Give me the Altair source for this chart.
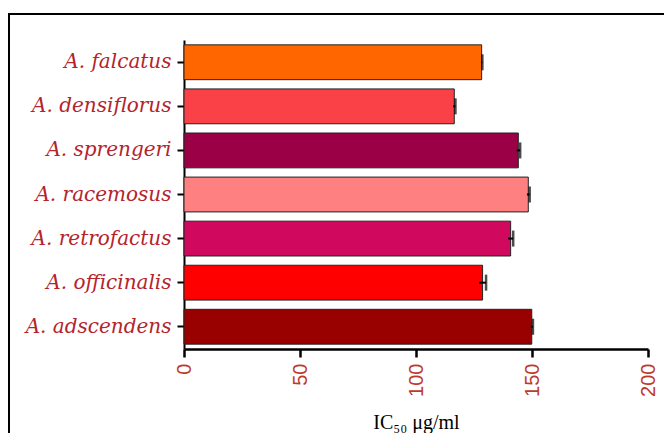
import altair as alt
import pandas as pd

species = ["A. falcatus", "A. densiflorus", "A. sprengeri", "A. racemosus",
           "A. retrofactus", "A. officinalis", "A. adscendens"]
ic50 = [128.3, 116.5, 144.1, 148.4, 140.8, 128.7, 149.9]
err = [0.3, 0.5, 0.8, 0.6, 1.1, 1.5, 0.5]
colors = ["#FF6600", "#FA4148", "#9B0047", "#FF8080", "#D0095F", "#FF0000", "#990000"]

df = pd.DataFrame({"species": species, "ic50": ic50, "err": err, "color": colors})
df["hi"] = df["ic50"] + df["err"]
df["lo"] = df["ic50"] - df["err"]

W, H = 464, 309

y_enc = alt.Y("species:N", sort=species,
              scale=alt.Scale(paddingInner=0.21, paddingOuter=0.11),
              axis=alt.Axis(title=None, labelFont="DejaVu Serif", labelFontStyle="italic",
                            labelFontSize=20, labelColor="#B5232B", labelPadding=6,
                            tickSize=7, tickWidth=2, tickColor="black",
                            domainWidth=2, domainColor="black"))

bars = alt.Chart(df).mark_bar(stroke="#222222", strokeWidth=1).encode(
    x=alt.X("ic50:Q", scale=alt.Scale(domain=[0, 200], nice=False),
            axis=alt.Axis(values=[0, 50, 100, 150, 200], title="IC₅₀ μg/ml",
                          titleFont="Liberation Serif", titleFontSize=20, titleFontWeight="normal",
                          titleColor="black", titlePadding=16,
                          labelFont="Liberation Sans", labelFontSize=20, labelColor="#C0392B",
                          labelAngle=270, labelPadding=6, labelFlush=False,
                          tickSize=8, tickWidth=2.5, tickColor="black",
                          domainWidth=2.5, domainColor="black", grid=False)),
    y=y_enc,
    color=alt.Color("color:N", scale=None),
)

rules = alt.Chart(df).mark_rule(color="black", strokeWidth=2).encode(
    x="lo:Q", x2="hi:Q", y=alt.Y("species:N", sort=species))

caps = alt.Chart(df).mark_tick(color="black", thickness=2.5, size=16).encode(
    x="hi:Q", y=alt.Y("species:N", sort=species))

frame_top = alt.Chart(df).mark_rule(color="black", strokeWidth=2).encode(
    x=alt.value(-175), x2=alt.value(560), y=alt.value(-26))
frame_left = alt.Chart(df).mark_rule(color="black", strokeWidth=2).encode(
    x=alt.value(-175), y=alt.value(-27), y2=alt.value(480))

chart = alt.layer(frame_top, frame_left, bars, rules, caps).properties(
    width=W, height=H,
    autosize=alt.AutoSizeParams(type="none"),
    padding={"left": 176, "top": 32, "right": 16, "bottom": 84},
    view=alt.ViewBackground(stroke="transparent", strokeWidth=0),
).configure_view(strokeWidth=0, strokeOpacity=0).configure_axis(grid=False).configure(background="white")

chart.save("out.html", embed_options={"renderer": "svg", "actions": False})
